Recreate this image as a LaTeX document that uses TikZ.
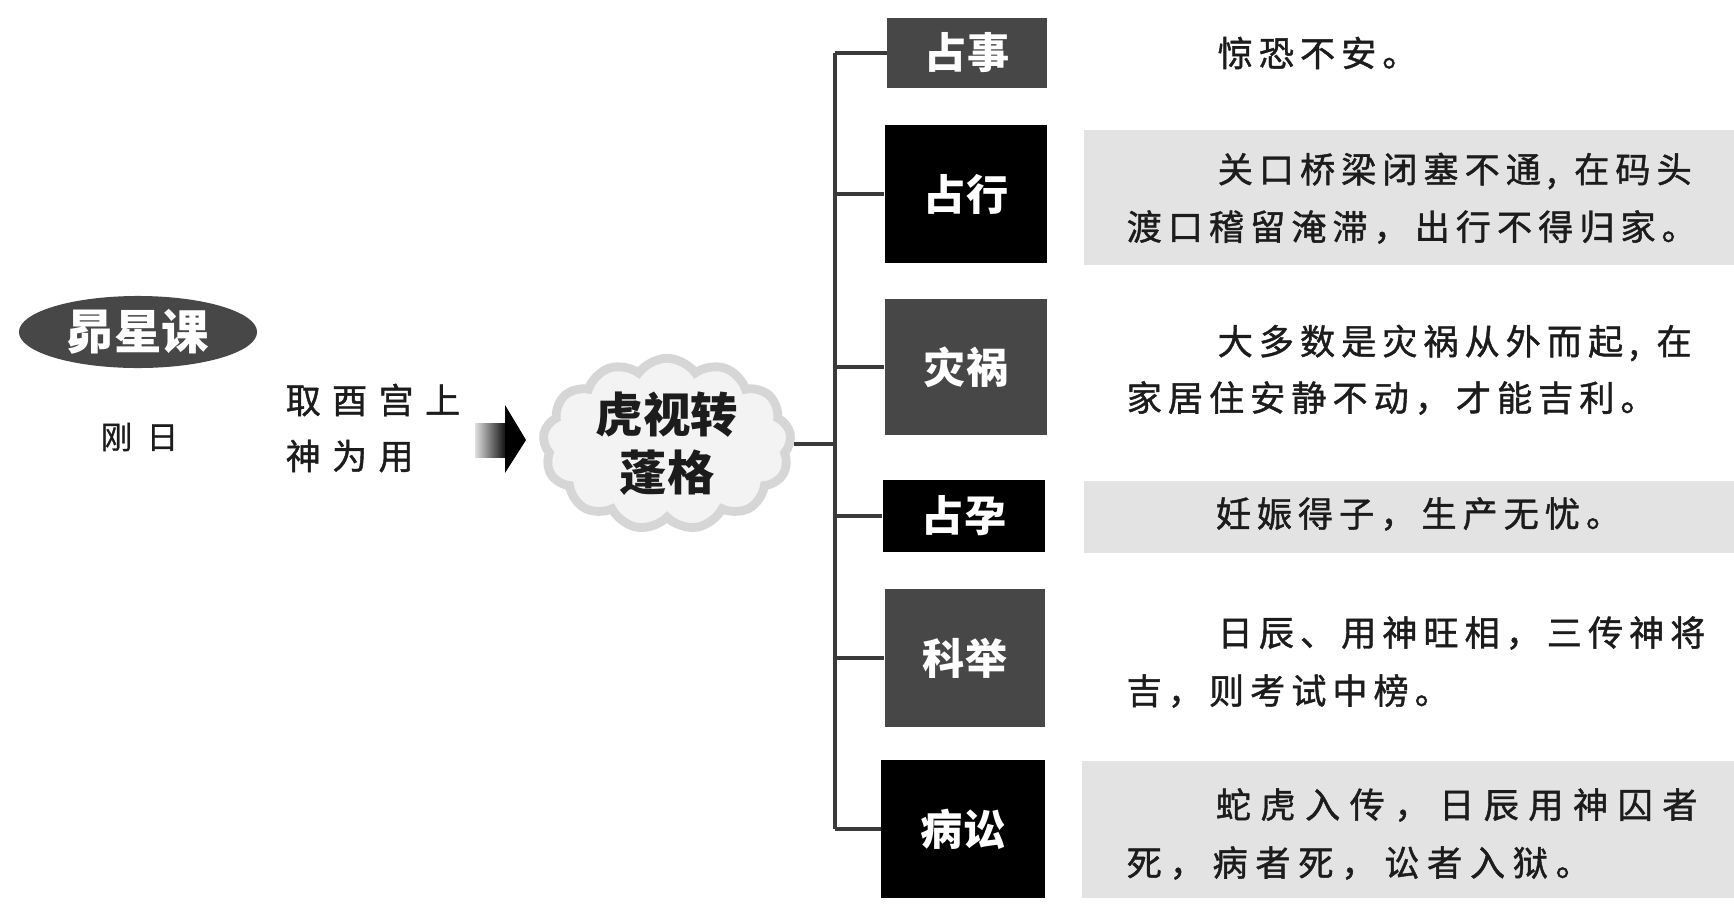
\documentclass[tikz,border=0pt]{standalone}
\usepackage{fontspec}
\setmainfont{Noto Sans CJK SC}
\newfontfamily\cjk{Noto Sans CJK SC}
\newfontfamily\desc[LetterSpace=17,FakeBold=1.2]{Noto Sans CJK SC}
\newfontfamily\descwide[LetterSpace=27,FakeBold=1.2]{Noto Sans CJK SC}
\newfontfamily\descmid[LetterSpace=22,FakeBold=1.2]{Noto Sans CJK SC}
\newfontfamily\widecjk[LetterSpace=32,FakeBold=1.2]{Noto Sans CJK SC}
\newfontfamily\widercjk[LetterSpace=45,FakeBold=0.8]{Noto Sans CJK SC}
\usetikzlibrary{shapes.geometric,shapes.symbols}
\definecolor{boxgray}{HTML}{474747}
\definecolor{bandgray}{HTML}{E3E3E3}
\definecolor{textdark}{HTML}{1C1C1C}
\definecolor{linegray}{HTML}{3A3A3A}
\definecolor{cloudfill}{HTML}{F3F3F3}
\definecolor{cloudedge}{HTML}{D6D6D6}
\begin{document}
\begin{tikzpicture}[x=0.01cm,y=-0.01cm,
  labelbox/.style={inner sep=0pt,text=white,font=\cjk\fontsize{12}{14}\selectfont\bfseries},
  darkbox/.style={labelbox,fill=boxgray},
  blackbox/.style={labelbox,fill=black},
  desctext/.style={anchor=west,inner sep=0pt,text=textdark,font=\desc\fontsize{10}{12}\selectfont},
  band/.style={fill=bandgray,draw=none},
  link/.style={draw=linegray,line width=0.9pt}]
\useasboundingbox (0,0) rectangle (1734,915);
\fill[white] (0,0) rectangle (1734,915);

% grey bands behind some descriptions
\fill[band] (1084,130) rectangle (1734,265);
\fill[band] (1084,481) rectangle (1734,553);
\fill[band] (1082,761) rectangle (1734,898);

% left part
\node[ellipse,fill=boxgray,minimum width=2.38cm,minimum height=0.72cm,inner sep=0pt,
      text=white,font=\cjk\fontsize{13.5}{15}\selectfont\bfseries] (kind) at (138,332) {昴星课};
\node[anchor=west,inner sep=0pt,text=textdark,font=\widercjk\fontsize{9}{11}\selectfont] (day) at (100,437) {刚日};
\node[anchor=west,inner sep=0pt,text=textdark,font=\widecjk\fontsize{10}{12}\selectfont] (rule1) at (285,400) {取酉宫上};
\node[anchor=west,inner sep=0pt,text=textdark,font=\widecjk\fontsize{10}{12}\selectfont] (rule2) at (285,456) {神为用};

% block arrow
\shade[left color=gray!25,right color=black] (475,423) rectangle (508,457);
\fill[black] (505,405) -- (526,440) -- (505,473) -- cycle;

% cloud
\node[cloud,cloud puffs=13,cloud puff arc=110,aspect=1.6,fill=cloudfill,draw=cloudedge,line width=2.5pt,
      minimum width=2.48cm,minimum height=1.52cm,inner sep=0pt,align=center,text=textdark,
      font=\cjk\fontsize{13.5}{16.5}\selectfont\bfseries] (cloud) at (667,444) {虎视转\\蓬格};

% trunk coordinates
\coordinate (t1) at (835,53);
\coordinate (t2) at (835,194);
\coordinate (t3) at (835,367);
\coordinate (t4) at (835,516);
\coordinate (t5) at (835,658);
\coordinate (t6) at (835,829);

% boxes
\node[darkbox,minimum width=1.59cm,minimum height=0.69cm] (b1) at (967,53) {占事};
\node[blackbox,minimum width=1.62cm,minimum height=1.38cm] (b2) at (966,194) {占行};
\node[darkbox,minimum width=1.62cm,minimum height=1.36cm] (b3) at (966,367) {灾祸};
\node[blackbox,minimum width=1.62cm,minimum height=0.72cm] (b4) at (964,516) {占孕};
\node[darkbox,minimum width=1.60cm,minimum height=1.38cm] (b5) at (965,658) {科举};
\node[blackbox,minimum width=1.63cm,minimum height=1.37cm] (b6) at (963,829) {病讼};

% connectors
\draw[link] (cloud.east) -- (cloud.east -| t1);
\draw[link] (t1) -- (t6);
\draw[link] (t1) -- (b1.west);
\draw[link] (t2) -- (b2.west);
\draw[link] (t3) -- (b3.west);
\draw[link] (t4) -- (b4.west);
\draw[link] (t5) -- (b5.west);
\draw[link] (t6) -- (b6.west);

% descriptions
\node[desctext] (d1) at (1217,53) {惊恐不安。};
\node[desctext] (d2a) at (1217,171) {关口桥梁闭塞不通,\kern5pt 在码头};
\node[desctext] (d2b) at (1126,227) {渡口稽留淹滞，出行不得归家。};
\node[desctext] (d3a) at (1217,343) {大多数是灾祸从外而起,\kern5pt 在};
\node[desctext] (d3b) at (1126,398) {家居住安静不动，才能吉利。};
\node[desctext] (d4) at (1215,514) {妊娠得子，生产无忧。};
\node[desctext] (d5a) at (1217,633) {日辰、用神旺相，三传神将};
\node[desctext] (d5b) at (1126,691) {吉，则考试中榜。};
\node[desctext,font=\descwide\fontsize{10}{12}\selectfont] (d6a) at (1215,805) {蛇虎入传，日辰用神囚者};
\node[desctext,font=\descmid\fontsize{10}{12}\selectfont] (d6b) at (1126,863) {死，病者死，讼者入狱。};
\end{tikzpicture}
\end{document}
